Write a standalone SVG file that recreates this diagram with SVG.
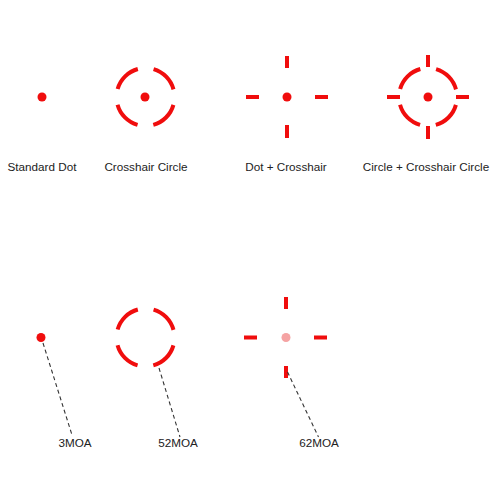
<svg xmlns="http://www.w3.org/2000/svg" width="500" height="500" viewBox="0 0 500 500">
<style>
.dot{fill:#f00d0d}
.ring{fill:none;stroke:#f00d0d;stroke-width:4;stroke-dasharray:29.55 16;stroke-dashoffset:37.55}
.tick{stroke:#f00d0d;stroke-width:4}
.lead{fill:none;stroke:#333;stroke-width:1.1;stroke-dasharray:4 3}
text{font-family:"Liberation Sans",Arial,sans-serif;font-size:11.7px;fill:#222;text-anchor:middle}
</style>
<rect width="500" height="500" fill="#fff"/>
<g id="standard-dot">
<circle class="dot" cx="42" cy="97" r="4.5"/>
<text x="42" y="171">Standard Dot</text>
</g>
<g id="crosshair-circle">
<circle class="ring" cx="145.5" cy="97" r="29"/>
<circle class="dot" cx="145" cy="97" r="4.5"/>
<text x="146" y="171">Crosshair Circle</text>
</g>
<g id="dot-crosshair">
<circle class="dot" cx="287" cy="97" r="4.5"/>
<path class="tick" d="M287 56v12M287 125v13M246 97h13M315 97h13"/>
<text x="286" y="171">Dot + Crosshair</text>
</g>
<g id="circle-crosshair-circle">
<circle class="ring" cx="428" cy="97" r="29"/>
<circle class="dot" cx="428" cy="97" r="4.5"/>
<path class="tick" d="M428 55v12M428 126v13M387 97h13M456 97h13"/>
<text x="426" y="171">Circle + Crosshair Circle</text>
</g>
<g id="dot-3moa">
<circle class="dot" cx="41" cy="337.5" r="4.5"/>
</g>
<g id="circle-52moa">
<circle class="ring" cx="145.5" cy="337.5" r="29"/>
</g>
<g id="crosshair-62moa">
<circle cx="286" cy="337.5" r="4.5" fill="#f5a3a3"/>
<path class="tick" d="M286 297v12M286 366v12M244 337.5h13M314 337.5h13"/>
</g>
<g id="connectors">
<path class="lead" d="M43 343L72 435"/>
<path class="lead" d="M159 368L180 437"/>
<path class="lead" d="M287.5 372L318.5 437"/>
</g>
<g id="labels">
<text x="75" y="447">3MOA</text>
<text x="178" y="447">52MOA</text>
<text x="319" y="447">62MOA</text>
</g>
</svg>
